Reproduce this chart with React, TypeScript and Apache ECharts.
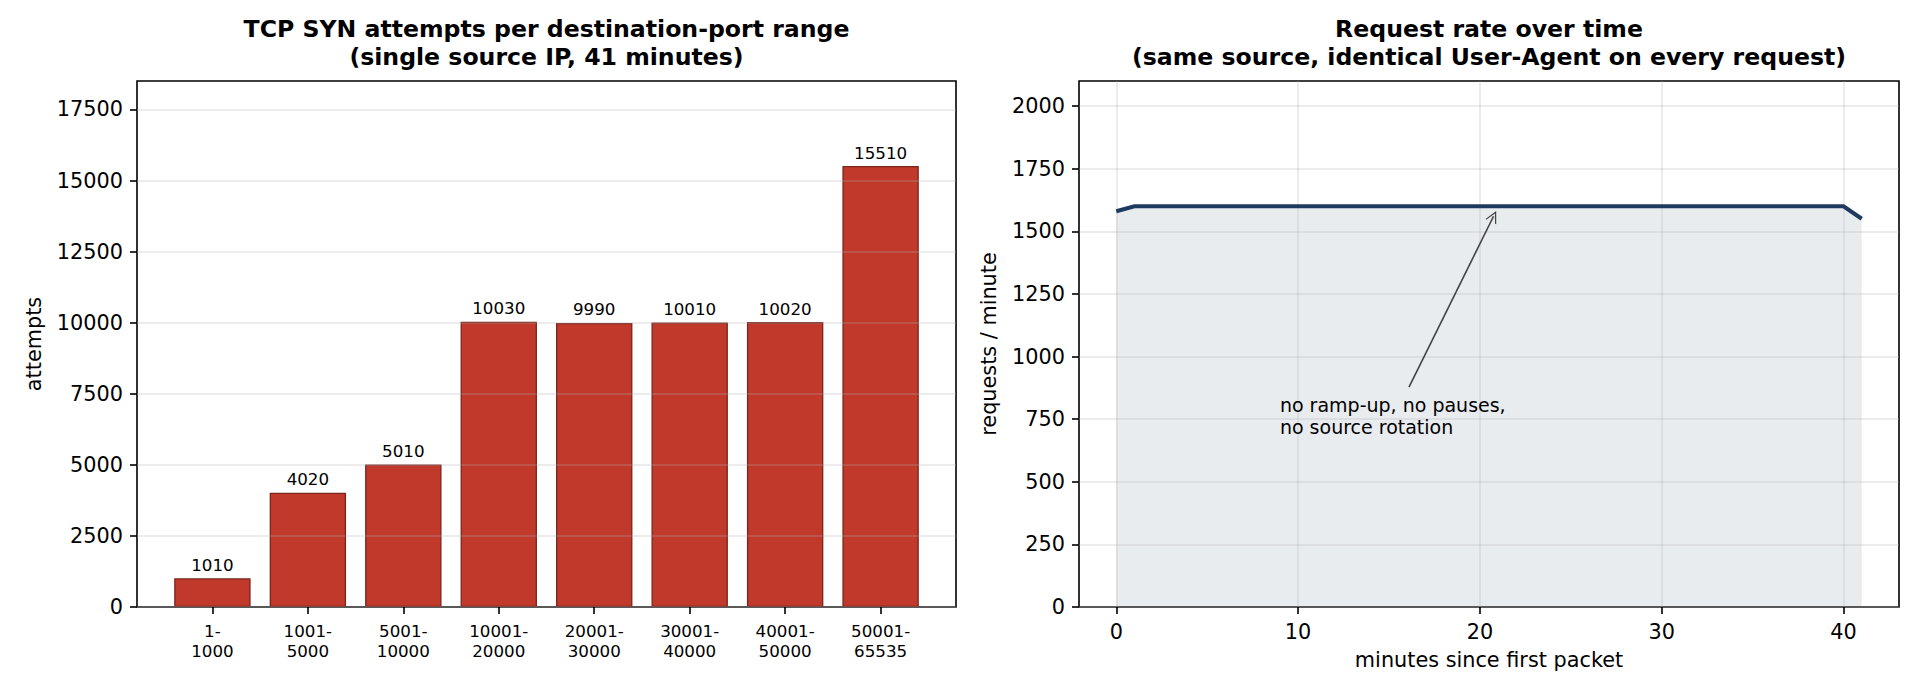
import React, { useEffect, useRef } from "react";
import * as echarts from "echarts";

const FONT = "DejaVu Sans";

// ---- Left chart data ----
const portRanges = [
  "1-\n1000",
  "1001-\n5000",
  "5001-\n10000",
  "10001-\n20000",
  "20001-\n30000",
  "30001-\n40000",
  "40001-\n50000",
  "50001-\n65535",
];
const synAttempts = [1010, 4020, 5010, 10030, 9990, 10010, 10020, 15510];
const attemptsTicks = [0, 2500, 5000, 7500, 10000, 12500, 15000, 17500];
const portIndexTicks = [0, 1, 2, 3, 4, 5, 6, 7];

// ---- Right chart data ----
const minutes = [
  0, 1, 2, 3, 4, 5, 6, 7, 8, 9, 10, 11, 12, 13, 14, 15, 16, 17, 18, 19, 20,
  21, 22, 23, 24, 25, 26, 27, 28, 29, 30, 31, 32, 33, 34, 35, 36, 37, 38, 39,
  40, 41,
];
const requestsPerMinute = [
  1580, 1600, 1600, 1600, 1600, 1600, 1600, 1600, 1600, 1600, 1600, 1600, 1600,
  1600, 1600, 1600, 1600, 1600, 1600, 1600, 1600, 1600, 1600, 1600, 1600, 1600,
  1600, 1600, 1600, 1600, 1600, 1600, 1600, 1600, 1600, 1600, 1600, 1600, 1600,
  1600, 1600, 1550,
];
const rateTicks = [0, 250, 500, 750, 1000, 1250, 1500, 1750, 2000];
const minuteTicks = [0, 10, 20, 30, 40];

// annotation
const annotationText = "no ramp-up, no pauses,\nno source rotation";
const annotationTextAt = [9, 700];
const arrowFrom = [16.1, 878];
const arrowTo = [20.75, 1560];

const GRID_COLOR = "rgba(176,176,176,0.32)";

export default function App() {
  const ref = useRef<HTMLDivElement>(null);

  useEffect(() => {
    if (!ref.current) return;
    const chart = echarts.init(ref.current, undefined, { renderer: "svg" });

    const tickStyle = { color: "#000", width: 1.6 };
    const labelBase = { color: "#000", fontFamily: FONT };
    const plain = (v: number) => String(v);

    const option: any = {
      animation: false,
      backgroundColor: "#fff",
      textStyle: { fontFamily: FONT },
      grid: [
        {
          left: 137,
          top: 81,
          width: 819,
          height: 526,
          show: true,
          borderColor: "#000",
          borderWidth: 1.6,
          backgroundColor: "transparent",
        },
        {
          left: 1079,
          top: 81,
          width: 820,
          height: 526,
          show: true,
          borderColor: "#000",
          borderWidth: 1.6,
          backgroundColor: "transparent",
        },
      ],
      xAxis: [
        {
          type: "value",
          gridIndex: 0,
          min: -0.79,
          max: 7.79,
          z: 3,
          axisLine: { show: false, onZero: false },
          axisTick: {
            show: true,
            length: 7,
            lineStyle: tickStyle,
            customValues: portIndexTicks,
          },
          axisLabel: {
            ...labelBase,
            customValues: portIndexTicks,
            formatter: (v: number) => portRanges[Math.round(v)] ?? "",
            fontSize: 16.7,
            lineHeight: 20,
            margin: 14,
          },
          splitLine: { show: false },
        },
        {
          type: "value",
          gridIndex: 1,
          min: -2.05,
          max: 43.05,
          z: 3,
          name: "minutes since first packet",
          nameLocation: "middle",
          nameGap: 42,
          nameTextStyle: { ...labelBase, fontSize: 20.8 },
          axisLine: { show: false, onZero: false },
          axisTick: {
            show: true,
            length: 7,
            lineStyle: tickStyle,
            customValues: minuteTicks,
          },
          axisLabel: {
            ...labelBase,
            customValues: minuteTicks,
            formatter: plain,
            fontSize: 20.8,
            margin: 14,
          },
          splitLine: {
            show: true,
            customValues: minuteTicks,
            lineStyle: { color: GRID_COLOR, width: 1.5 },
          },
        },
      ],
      yAxis: [
        {
          type: "value",
          gridIndex: 0,
          min: 0,
          max: 18500,
          interval: 2500,
          z: 3,
          name: "attempts",
          nameLocation: "middle",
          nameGap: 93,
          nameTextStyle: { ...labelBase, fontSize: 20.8 },
          axisLine: { show: false, onZero: false },
          axisTick: {
            show: true,
            length: 7,
            lineStyle: tickStyle,
            customValues: attemptsTicks,
          },
          axisLabel: {
            ...labelBase,
            customValues: attemptsTicks,
            formatter: plain,
            fontSize: 20.8,
            margin: 14,
          },
          splitLine: {
            show: true,
            lineStyle: { color: GRID_COLOR, width: 1.5 },
          },
        },
        {
          type: "value",
          gridIndex: 1,
          min: 0,
          max: 2100,
          interval: 250,
          z: 3,
          name: "requests / minute",
          nameLocation: "middle",
          nameGap: 80,
          nameTextStyle: { ...labelBase, fontSize: 20.8 },
          axisLine: { show: false, onZero: false },
          axisTick: {
            show: true,
            length: 7,
            lineStyle: tickStyle,
            customValues: rateTicks,
          },
          axisLabel: {
            ...labelBase,
            customValues: rateTicks,
            formatter: plain,
            fontSize: 20.8,
            margin: 14,
          },
          splitLine: {
            show: true,
            lineStyle: { color: GRID_COLOR, width: 1.5 },
          },
        },
      ],
      series: [
        {
          type: "bar",
          xAxisIndex: 0,
          yAxisIndex: 0,
          z: 2,
          barWidth: 76.4,
          data: synAttempts.map((v, i) => [i, v]),
          itemStyle: {
            color: "#c0392b",
            borderColor: "#7b241c",
            borderWidth: 1.3,
          },
          label: {
            show: true,
            position: "top",
            distance: 5,
            color: "#000",
            fontFamily: FONT,
            fontSize: 16.7,
            formatter: (p: any) => String(p.value[1]),
          },
        },
        {
          type: "line",
          xAxisIndex: 1,
          yAxisIndex: 1,
          z: 1,
          showSymbol: false,
          symbol: "none",
          data: minutes.map((m, i) => [m, requestsPerMinute[i]]),
          lineStyle: { width: 0 },
          areaStyle: { color: "rgba(31,58,95,0.14)", origin: "start" },
        },
        {
          type: "line",
          xAxisIndex: 1,
          yAxisIndex: 1,
          z: 5,
          showSymbol: false,
          symbol: "none",
          data: minutes.map((m, i) => [m, requestsPerMinute[i]]),
          lineStyle: { color: "#1f3a5f", width: 4, join: "miter" },
          markLine: {
            silent: true,
            symbol: ["none", "path://M0,14 L7,0 L14,14 L12.4,14 L7,3.4 L1.6,14 Z"],
            symbolSize: [12, 12],
            label: { show: false },
            lineStyle: { color: "#444", width: 1.6, type: "solid" },
            data: [[{ coord: arrowFrom }, { coord: arrowTo }]],
          },
        },
      ],
    };

    chart.setOption(option);

    const p = chart.convertToPixel({ xAxisIndex: 1, yAxisIndex: 1 } as any, annotationTextAt) as number[];

    const titleStyle = {
      align: "center",
      verticalAlign: "top",
      fontFamily: FONT,
      fontWeight: "bold",
      fontSize: 23.6,
      lineHeight: 28,
      fill: "#000",
    };

    chart.setOption({
      graphic: [
        {
          type: "text",
          x: 546.5,
          y: 15,
          style: {
            ...titleStyle,
            text: "TCP SYN attempts per destination-port range\n(single source IP, 41 minutes)",
          },
        },
        {
          type: "text",
          x: 1489,
          y: 15,
          style: {
            ...titleStyle,
            text: "Request rate over time\n(same source, identical User-Agent on every request)",
          },
        },
        {
          type: "text",
          x: p[0],
          y: p[1] + 6,
          z: 10,
          style: {
            text: annotationText,
            align: "left",
            verticalAlign: "bottom",
            fontFamily: FONT,
            fontSize: 19,
            lineHeight: 22,
            fill: "#000",
          },
        },
      ],
    });

    return () => chart.dispose();
  }, []);

  return (
    <div
      ref={ref}
      style={{
        position: "fixed",
        left: 0,
        top: 0,
        width: 1922,
        height: 697,
        background: "#fff",
      }}
    />
  );
}
